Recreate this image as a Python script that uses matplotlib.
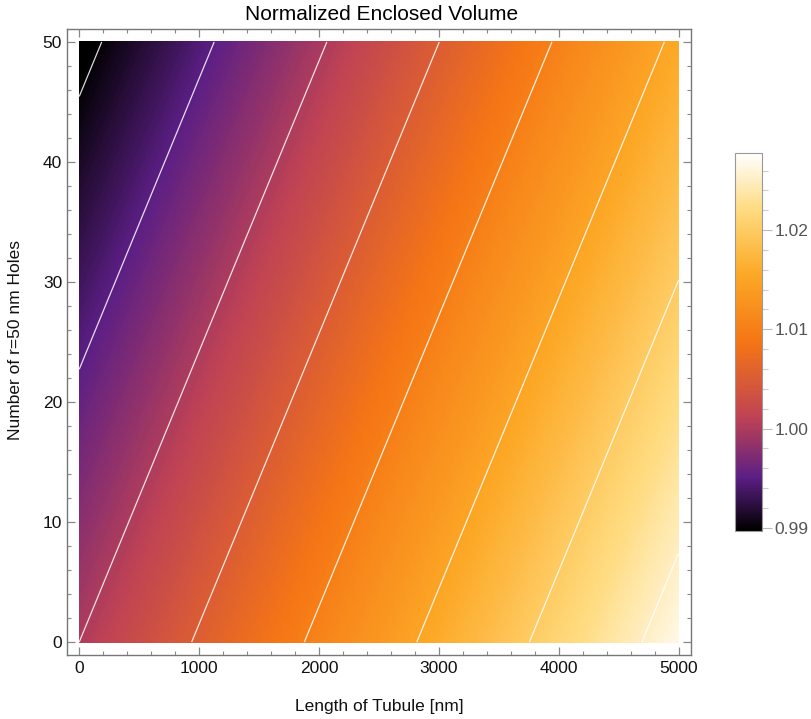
import numpy as np
import matplotlib
matplotlib.use("Agg")
import matplotlib.pyplot as plt
from matplotlib.colors import LinearSegmentedColormap, Normalize
from matplotlib.cm import ScalarMappable
from matplotlib.ticker import MultipleLocator, FixedLocator

plt.rcParams['font.family'] = ['Liberation Sans', 'DejaVu Sans']

# values at a coarse grid (plane, so the library's
# linear interpolation between nodes is enough)
tubule_length = [0, 1000, 2000, 3000, 4000, 5000]   # nm
hole_count = [0, 10, 20, 30, 40, 50]
volume = [
    [1.00000, 1.00533, 1.01065, 1.01598, 1.02130, 1.02663],
    [0.99780, 1.00313, 1.00845, 1.01378, 1.01910, 1.02443],
    [0.99560, 1.00093, 1.00625, 1.01158, 1.01690, 1.02223],
    [0.99340, 0.99873, 1.00405, 1.00938, 1.01470, 1.02003],
    [0.99120, 0.99653, 1.00185, 1.00718, 1.01250, 1.01783],
    [0.98900, 0.99433, 0.99965, 1.00498, 1.01030, 1.01563],
]
contour_levels = [0.990, 0.995, 1.000, 1.005, 1.010, 1.015, 1.020, 1.025]
cbar_ticks = [0.99, 1.00, 1.01, 1.02]
vmin, vmax = 0.9897, 1.0278

# something like Mathematica's SunsetColors
sunset = LinearSegmentedColormap.from_list("sunset", [
    (0.00, (0.00, 0.00, 0.00)),
    (0.14, (0.36, 0.12, 0.52)),
    (0.30, (0.75, 0.26, 0.33)),
    (0.50, (0.96, 0.46, 0.08)),
    (0.68, (0.99, 0.66, 0.15)),
    (0.85, (1.00, 0.86, 0.50)),
    (1.00, (1.00, 1.00, 1.00)),
])
norm = Normalize(vmin=vmin, vmax=vmax)

fig = plt.figure(figsize=(8.12, 7.19), dpi=100)
ax = fig.add_axes([67/812, 64/719, 624/812, 626/719])

L, N = np.meshgrid(tubule_length, hole_count)
V = np.array(volume)
ax.contourf(L, N, V, levels=np.linspace(0.988, 1.028, 400), cmap=sunset, norm=norm)
ax.contour(L, N, V, levels=contour_levels, colors='white', linewidths=0.9, alpha=0.85)

ax.set_xlim(-102, 5104)
ax.set_ylim(-1.08, 51.08)

gray = '#777777'
for s in ax.spines.values():
    s.set_color(gray)
    s.set_linewidth(1.0)
ax.xaxis.set_major_locator(MultipleLocator(1000))
ax.xaxis.set_minor_locator(MultipleLocator(200))
ax.yaxis.set_major_locator(MultipleLocator(10))
ax.yaxis.set_minor_locator(MultipleLocator(2))
ax.tick_params(which='both', direction='in', top=True, right=True, color='#888888',
               labelsize=12.5, labelcolor='#111111')
ax.tick_params(which='major', length=5.5, width=0.9)
ax.tick_params(which='minor', length=3, width=0.8)
ax.tick_params(axis='x', pad=4.5)
ax.tick_params(axis='y', pad=3.5)

fig.text(382/812, 1 - 14/719, "Normalized Enclosed Volume", ha='center', va='center',
         fontsize=15, color='black')
fig.text(379/812, 1 - 707/719, "Length of Tubule [nm]", ha='center', va='center',
         fontsize=12.5, color='#111111')
fig.text(16/812, 1 - 340/719, "Number of r=50 nm Holes", ha='center', va='center',
         rotation=90, fontsize=12.5, color='#111111')

# colour bar
cax = fig.add_axes([735/812, (719 - 530.7)/719, 27/812, 378/719])
cb = fig.colorbar(ScalarMappable(norm=norm, cmap=sunset), cax=cax)
cb.outline.set_edgecolor('#999999')
cb.outline.set_linewidth(0.8)
cb.set_ticks(cbar_ticks)
cb.ax.set_yticklabels(["%.2f" % t for t in cbar_ticks])
cb.ax.yaxis.set_minor_locator(FixedLocator(np.arange(0.990, 1.0279, 0.002)))
cb.ax.tick_params(which='major', length=7, width=0.8, color='#bbbbbb',
                  labelsize=12.5, labelcolor='#555555', pad=2)
cb.ax.tick_params(which='minor', length=4, width=0.8, color='#cccccc')

fig.savefig("out.png", dpi=100)
